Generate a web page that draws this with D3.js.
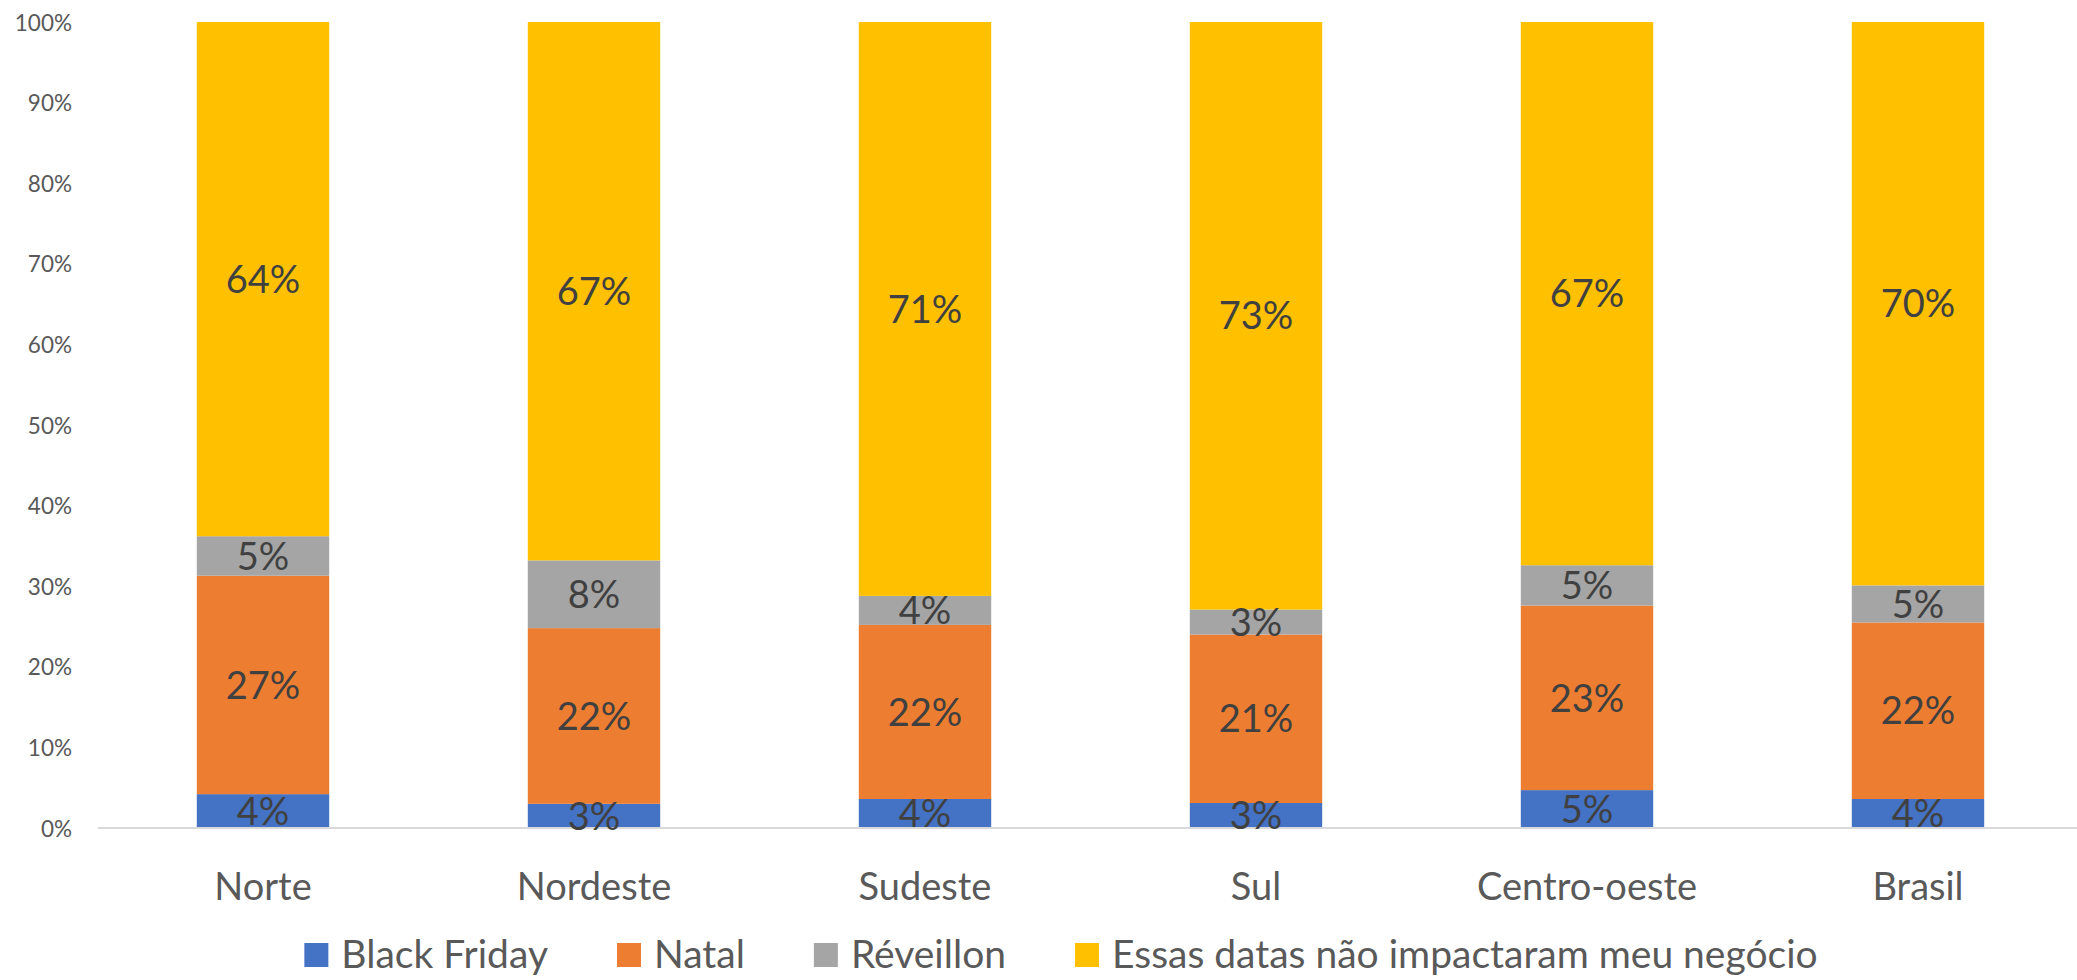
<!DOCTYPE html>
<html>
<head>
<meta charset="utf-8">
<script src="https://cdn.jsdelivr.net/npm/d3@7"></script>
<style>
  html, body { margin: 0; padding: 0; background: #fff; }
  svg { display: block; }
  text { font-family: Lato, "Open Sans", sans-serif; }
</style>
</head>
<body>
<svg id="chart" width="2077" height="980"></svg>
<script>
const categories = ["Norte", "Nordeste", "Sudeste", "Sul", "Centro-oeste", "Brasil"];
const seriesNames = ["Black Friday", "Natal", "Réveillon", "Essas datas não impactaram meu negócio"];
const blackFriday = [4.2, 3.0, 3.6, 3.1, 4.7, 3.6];
const natal       = [27.1, 21.8, 21.6, 20.9, 22.9, 21.9];
const reveillon   = [4.9, 8.4, 3.6, 3.1, 5.0, 4.6];
const naoImpacto  = [63.8, 66.8, 71.2, 72.9, 67.4, 69.9];
const seriesColors = ["#4472C4", "#ED7D31", "#A5A5A5", "#FFC000"];
const yTicks = [0, 10, 20, 30, 40, 50, 60, 70, 80, 90, 100];

const seriesValues = [blackFriday, natal, reveillon, naoImpacto];
const rows = categories.map((c, i) => {
  const r = { cat: c };
  seriesNames.forEach((s, k) => { r[s] = seriesValues[k][i]; });
  return r;
});

const svg = d3.select("#chart");
const plot = { left: 97.5, right: 2083.5, top: 22, bottom: 828 };

const x = d3.scaleBand().domain(categories)
  .range([plot.left, plot.right]).paddingInner(0.6).paddingOuter(0.3);
const y = d3.scaleLinear().domain([0, 100]).range([plot.bottom, plot.top]);

const stack = d3.stack().keys(seriesNames);
const stacked = stack(rows);

// y-axis tick labels
const yAxis = d3.axisLeft(y).tickValues(yTicks).tickSize(0).tickPadding(0)
  .tickFormat(d => d + "%");
const yg = svg.append("g").attr("transform", "translate(72,0)").call(yAxis);
yg.select(".domain").remove();
yg.selectAll("text")
  .attr("x", 0).attr("dy", "0.36em")
  .style("font-family", "Lato, sans-serif")
  .style("font-size", "22.5px").attr("fill", "#595959");

// bars
const groups = svg.append("g").selectAll("g").data(stacked).join("g")
  .attr("fill", (d, i) => seriesColors[i]);
groups.selectAll("rect").data(d => d).join("rect")
  .attr("x", d => x(d.data.cat))
  .attr("width", x.bandwidth())
  .attr("y", d => y(d[1]))
  .attr("height", d => y(d[0]) - y(d[1]));

// x axis line
svg.append("line")
  .attr("x1", 98).attr("x2", 2077)
  .attr("y1", y(0)).attr("y2", y(0))
  .attr("stroke", "#D9D9D9").attr("stroke-width", 2);

// data labels
const labels = svg.append("g");
stacked.forEach((s) => {
  s.forEach(d => {
    const v = d[1] - d[0];
    labels.append("text")
      .attr("x", x(d.data.cat) + x.bandwidth() / 2)
      .attr("y", (y(d[0]) + y(d[1])) / 2)
      .attr("dy", "0.36em")
      .attr("text-anchor", "middle")
      .style("font-size", "38px")
      .attr("fill", "#404040")
      .text(Math.round(v) + "%");
  });
});

// category labels
const xAxis = d3.axisBottom(x).tickSize(0).tickPadding(0);
const xg = svg.append("g").attr("transform", "translate(0,900)").call(xAxis);
xg.select(".domain").remove();
xg.selectAll("text")
  .attr("y", 0).attr("dy", 0)
  .style("font-family", "Lato, sans-serif")
  .style("font-size", "38px").attr("fill", "#595959");

// legend
const legend = svg.append("g");
let cx = 0;
seriesNames.forEach((name, i) => {
  const g = legend.append("g");
  g.append("rect").attr("x", 0).attr("y", -25).attr("width", 24).attr("height", 24)
    .attr("fill", seriesColors[i]);
  const t = g.append("text").attr("x", 37).attr("y", 0)
    .style("font-size", "39px").attr("fill", "#595959").text(name);
  const w = 37 + t.node().getComputedTextLength();
  g.attr("transform", `translate(${cx},0)`);
  cx += w + 69;
});
const totalW = cx - 69;
legend.attr("transform", `translate(${1061 - totalW / 2},968)`);
</script>
</body>
</html>
